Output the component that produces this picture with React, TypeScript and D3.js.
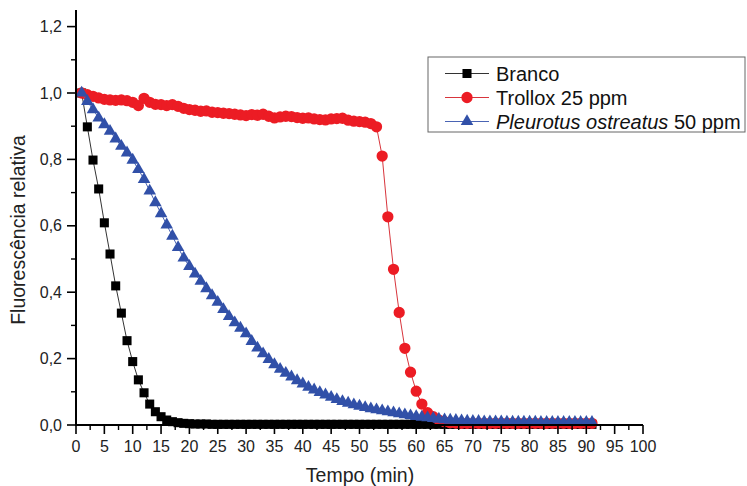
import React from "react";
import * as d3 from "d3";

// Time (min), one reading per minute
const TIME: number[] = d3.range(1, 92);

const BRANCO: number[] = [
  1.000, 0.898, 0.798, 0.711, 0.609, 0.515, 0.419, 0.337, 0.254, 0.191,
  0.136, 0.097, 0.063, 0.040, 0.025, 0.015, 0.010, 0.007, 0.005, 0.004,
  0.003, 0.003, 0.003, 0.002, 0.002, 0.002, 0.002, 0.002, 0.002, 0.002,
  0.002, 0.002, 0.002, 0.002, 0.002, 0.002, 0.002, 0.002, 0.002, 0.002,
  0.002, 0.002, 0.002, 0.002, 0.002, 0.002, 0.002, 0.002, 0.002, 0.002,
  0.002, 0.002, 0.002, 0.002, 0.002, 0.002, 0.002, 0.002, 0.002, 0.002,
  0.002, 0.002, 0.002, 0.002, 0.002, 0.002, 0.002, 0.002, 0.002, 0.002,
  0.002, 0.002, 0.002, 0.002, 0.002, 0.002, 0.002, 0.002, 0.002, 0.002,
  0.002, 0.002, 0.002, 0.002, 0.002, 0.002, 0.002, 0.002, 0.002, 0.002,
  0.002,
];

const TROLLOX: number[] = [
  1.000, 0.995, 0.990, 0.985, 0.981, 0.979, 0.978, 0.979, 0.977, 0.972,
  0.962, 0.984, 0.972, 0.966, 0.965, 0.962, 0.965, 0.960, 0.954, 0.950,
  0.948, 0.945, 0.946, 0.942, 0.941, 0.939, 0.938, 0.936, 0.934, 0.932,
  0.935, 0.933, 0.936, 0.930, 0.925, 0.928, 0.930, 0.929, 0.926, 0.924,
  0.925, 0.922, 0.920, 0.919, 0.922, 0.923, 0.924, 0.918, 0.915, 0.914,
  0.912, 0.908, 0.898, 0.810, 0.627, 0.469, 0.339, 0.231, 0.159, 0.102,
  0.063, 0.037, 0.025, 0.015, 0.010, 0.007, 0.006, 0.005, 0.005, 0.005,
  0.005, 0.005, 0.005, 0.005, 0.005, 0.005, 0.005, 0.005, 0.005, 0.005,
  0.005, 0.005, 0.005, 0.005, 0.005, 0.005, 0.005, 0.005, 0.005, 0.005,
  0.005,
];

const PLEUROTUS: number[] = [
  1.000, 0.975, 0.950, 0.925, 0.905, 0.885, 0.862, 0.840, 0.820, 0.798,
  0.770, 0.740, 0.705, 0.670, 0.637, 0.603, 0.569, 0.535, 0.503, 0.478,
  0.455, 0.433, 0.411, 0.390, 0.370, 0.348, 0.327, 0.308, 0.292, 0.275,
  0.252, 0.232, 0.215, 0.198, 0.182, 0.168, 0.156, 0.145, 0.134, 0.124,
  0.114, 0.106, 0.098, 0.091, 0.084, 0.077, 0.071, 0.066, 0.061, 0.057,
  0.053, 0.049, 0.046, 0.043, 0.040, 0.037, 0.034, 0.031, 0.028, 0.026,
  0.024, 0.022, 0.020, 0.018, 0.016, 0.015, 0.014, 0.013, 0.012, 0.011,
  0.011, 0.010, 0.010, 0.010, 0.010, 0.009, 0.009, 0.009, 0.009, 0.009,
  0.009, 0.008, 0.008, 0.008, 0.008, 0.008, 0.008, 0.008, 0.008, 0.008,
  0.008,
];

const X_TICKS: number[] = d3.range(0, 101, 5);
const X_MINOR: number[] = d3.range(2.5, 100, 5);
const Y_TICKS: number[] = [0, 0.2, 0.4, 0.6, 0.8, 1.0, 1.2];
const Y_MINOR: number[] = [0.1, 0.3, 0.5, 0.7, 0.9, 1.1];

const FONT = "'Liberation Sans', Arial, sans-serif";

export default function App() {
  const W = 747, H = 486;
  const x = d3.scaleLinear().domain([0, 100]).range([76, 643]);
  const y = d3.scaleLinear().domain([0, 1.25]).range([425, 10]);

  const mk = (vals: number[]) =>
    TIME.map((t, i) => [t, vals[i]] as [number, number]);

  const line = d3
    .line<[number, number]>()
    .x((d) => x(d[0]))
    .y((d) => y(d[1]));

  const sq = d3.symbol(d3.symbolSquare, 82)()!;
  const circ = d3.symbol(d3.symbolCircle, 100)()!;
  const tri = d3.symbol(d3.symbolTriangle, 68)()!;

  const series = [
    { name: "Branco", vals: BRANCO, fill: "#000000", stroke: "#333333", path: sq },
    { name: "Trollox", vals: TROLLOX, fill: "#ec1c24", stroke: "#d8353c", path: circ },
    { name: "Pleurotus", vals: PLEUROTUS, fill: "#3150a8", stroke: "#4a64b4", path: tri },
  ];

  const fmt = (v: number) => v.toFixed(1).replace(".", ",");

  const legendRows = [
    { y: 73.5, s: series[0], label: <tspan>Branco</tspan> },
    { y: 97.5, s: series[1], label: <tspan>Trollox 25 ppm</tspan> },
    {
      y: 121.5,
      s: series[2],
      label: (
        <>
          <tspan fontStyle="italic">Pleurotus ostreatus</tspan>
          <tspan> 50 ppm</tspan>
        </>
      ),
    },
  ];

  return (
    <svg
      width={W}
      height={H}
      style={{ position: "absolute", left: 0, top: 0, background: "#fff" }}
      fontFamily={FONT}
    >
      <rect x={0} y={0} width={W} height={H} fill="#fff" />

      {/* series */}
      {series.map((s) => {
        const pts = mk(s.vals);
        return (
          <g key={s.name}>
            <path d={line(pts)!} fill="none" stroke={s.stroke} strokeWidth={1} />
            {pts.map((p, i) => (
              <path
                key={i}
                d={s.path}
                transform={`translate(${x(p[0])},${y(p[1])})`}
                fill={s.fill}
              />
            ))}
          </g>
        );
      })}

      {/* axes */}
      <line x1={76} x2={76} y1={y(1.25)} y2={y(0) + 1} stroke="#000" strokeWidth={2} />
      <line x1={75} x2={x(100)} y1={y(0)} y2={y(0)} stroke="#000" strokeWidth={2} />

      {Y_TICKS.map((v) => (
        <g key={"y" + v}>
          <line x1={67} x2={76} y1={y(v)} y2={y(v)} stroke="#000" strokeWidth={1.6} />
          <text x={62} y={y(v)} dy="0.35em" textAnchor="end" fontSize={16} fill="#222">
            {fmt(v)}
          </text>
        </g>
      ))}
      {Y_MINOR.map((v) => (
        <line key={"ym" + v} x1={71} x2={76} y1={y(v)} y2={y(v)} stroke="#000" strokeWidth={1.4} />
      ))}

      {X_TICKS.map((v) => (
        <g key={"x" + v}>
          <line x1={x(v)} x2={x(v)} y1={y(0)} y2={y(0) + 9} stroke="#000" strokeWidth={1.6} />
          <text x={x(v)} y={452} textAnchor="middle" fontSize={16} fill="#222">
            {v}
          </text>
        </g>
      ))}
      {X_MINOR.map((v) => (
        <line key={"xm" + v} x1={x(v)} x2={x(v)} y1={y(0)} y2={y(0) + 5} stroke="#000" strokeWidth={1.4} />
      ))}

      {/* titles */}
      <text x={360} y={482} textAnchor="middle" fontSize={19.5} fill="#222">
        Tempo (min)
      </text>
      <text
        transform="translate(18,230) rotate(-90)"
        dy="0.35em"
        textAnchor="middle"
        fontSize={19.5}
        fill="#222"
      >
        Fluorescência relativa
      </text>

      {/* legend */}
      <rect x={428} y={57} width={317} height={75} fill="#fff" stroke="#666" strokeWidth={1} />
      {legendRows.map((r, i) => (
        <g key={"lg" + i}>
          <line x1={445} x2={489} y1={r.y} y2={r.y} stroke={r.s.stroke} strokeWidth={1} />
          <path d={r.s.path} transform={`translate(467,${r.y})`} fill={r.s.fill} />
          <text x={496} y={r.y} dy="0.35em" fontSize={20} fill="#111">
            {r.label}
          </text>
        </g>
      ))}
    </svg>
  );
}
